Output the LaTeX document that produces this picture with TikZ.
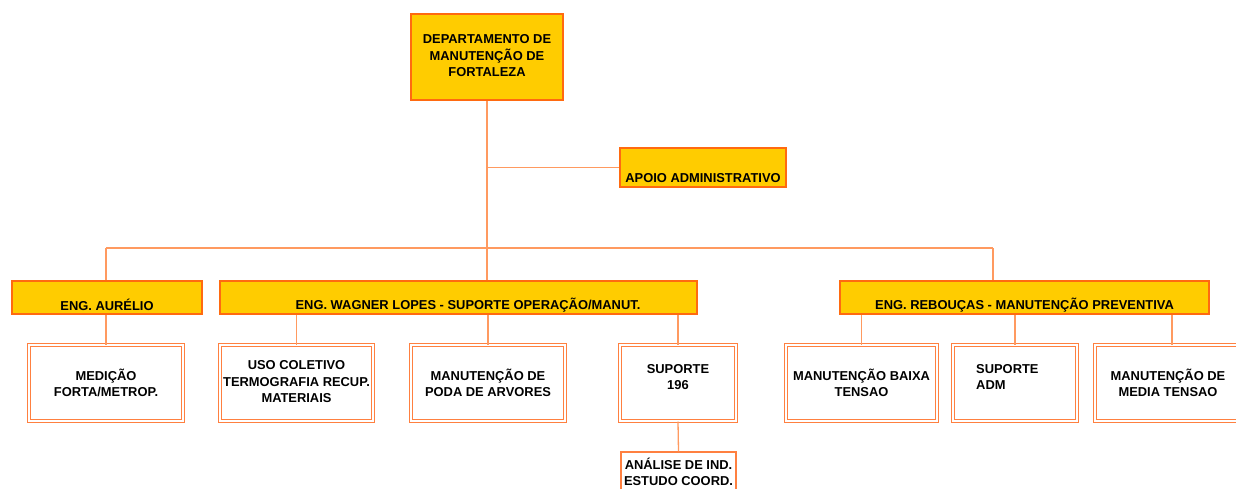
\documentclass[tikz,border=0pt]{standalone}
\usepackage{fontspec}
\setmainfont{Liberation Sans}
\definecolor{ybox}{HTML}{FFCC00}
\definecolor{oborder}{HTML}{FF6A10}
\definecolor{oline}{HTML}{FF9A60}
\definecolor{dborder}{HTML}{FF8040}
\begin{document}
\begin{tikzpicture}[x=1pt,y=-1pt,
  yellowbox/.style={draw=oborder,fill=ybox,line width=2pt,inner sep=0pt},
  whitebox/.style={draw=dborder,double=white,double distance=2pt,line width=1pt,fill=white,inner sep=0pt},
  singlebox/.style={draw=dborder,line width=1.2pt,fill=white,inner sep=0pt},
  lbl/.style={font=\bfseries\fontsize{12.9}{16.5}\selectfont,align=center,inner sep=0pt,text=black},
  conn/.style={draw=oline,line width=1.3pt}]
\useasboundingbox (0,0) rectangle (1236,488);
% boxes
\node[yellowbox,minimum width=152,minimum height=86] (top) at (487,57) {};
\node[lbl] (toptxt) at (487,56) {DEPARTAMENTO DE\\MANUTENÇÃO DE\\FORTALEZA};
\node[yellowbox,minimum width=166,minimum height=39] (apoio) at (703,167.5) {};
\node[lbl] (apoiotxt) at (703,178) {APOIO ADMINISTRATIVO};
\node[yellowbox,minimum width=190,minimum height=33] (aur) at (107,297.5) {};
\node[lbl] (aurtxt) at (107,305) {ENG. AURÉLIO};
\node[yellowbox,minimum width=477,minimum height=33] (wag) at (458.5,297.5) {};
\node[lbl] (wagtxt) at (468,305) {ENG. WAGNER LOPES - SUPORTE OPERAÇÃO/MANUT.};
\node[yellowbox,minimum width=369,minimum height=33] (reb) at (1024.5,297.5) {};
\node[lbl] (rebtxt) at (1024.5,305) {ENG. REBOUÇAS - MANUTENÇÃO PREVENTIVA};
% children
\node[whitebox,minimum width=154,minimum height=76] (med) at (106,383) {};
\node[lbl] (medtxt) at (106,383) {MEDIÇÃO\\FORTA/METROP.};
\node[whitebox,minimum width=153,minimum height=76] (uso) at (296.5,383) {};
\node[lbl] (usotxt) at (296.5,382) {USO COLETIVO\\TERMOGRAFIA RECUP.\\MATERIAIS};
\node[whitebox,minimum width=154,minimum height=76] (poda) at (488,383) {};
\node[lbl] (podatxt) at (488,383) {MANUTENÇÃO DE\\PODA DE ARVORES};
\node[whitebox,minimum width=116,minimum height=76] (sup) at (678,383) {};
\node[lbl] (suptxt) at (678,377) {SUPORTE\\196};
\node[whitebox,minimum width=151,minimum height=76] (bai) at (861.5,383) {};
\node[lbl] (baitxt) at (861.5,383) {MANUTENÇÃO BAIXA\\TENSAO};
\node[whitebox,minimum width=124,minimum height=76] (adm) at (1015,383) {};
\node[lbl,align=left,anchor=west] (admtxt) at (976,377) {SUPORTE\\ADM};
\node[whitebox,minimum width=155,minimum height=76] (mt) at (1172,383) {};
\node[lbl] (mttxt) at (1168,383) {MANUTENÇÃO DE\\MEDIA TENSAO};
\node[singlebox,minimum width=115,minimum height=50] (ana) at (678.5,477) {};
\node[lbl] (anatxt) at (678.5,472) {ANÁLISE DE IND.\\ESTUDO COORD.};
% connectors
\coordinate (hL) at (106,248);
\coordinate (hR) at (993,248);
\coordinate (hM) at (487,248);
\draw[conn] (top.south) -- (hM);
\draw[conn] (top.south |- apoio.west) -- (apoio.west);
\draw[conn] (hL) -- (hR);
\draw[conn] (hL) -- (hL |- aur.north);
\draw[conn] (hM) -- (hM |- wag.north);
\draw[conn] (hR) -- (hR |- reb.north);
\draw[conn] (med.north) -- (med.north |- aur.south);
\draw[conn] (uso.north) -- (uso.north |- wag.south);
\draw[conn] (poda.north) -- (poda.north |- wag.south);
\draw[conn] (sup.north) -- (sup.north |- wag.south);
\draw[conn] (bai.north) -- (bai.north |- reb.south);
\draw[conn] (adm.north) -- (adm.north |- reb.south);
\draw[conn] (mt.north) -- (mt.north |- reb.south);
\draw[conn] (sup.south) -- (ana.north);
\end{tikzpicture}
\end{document}
